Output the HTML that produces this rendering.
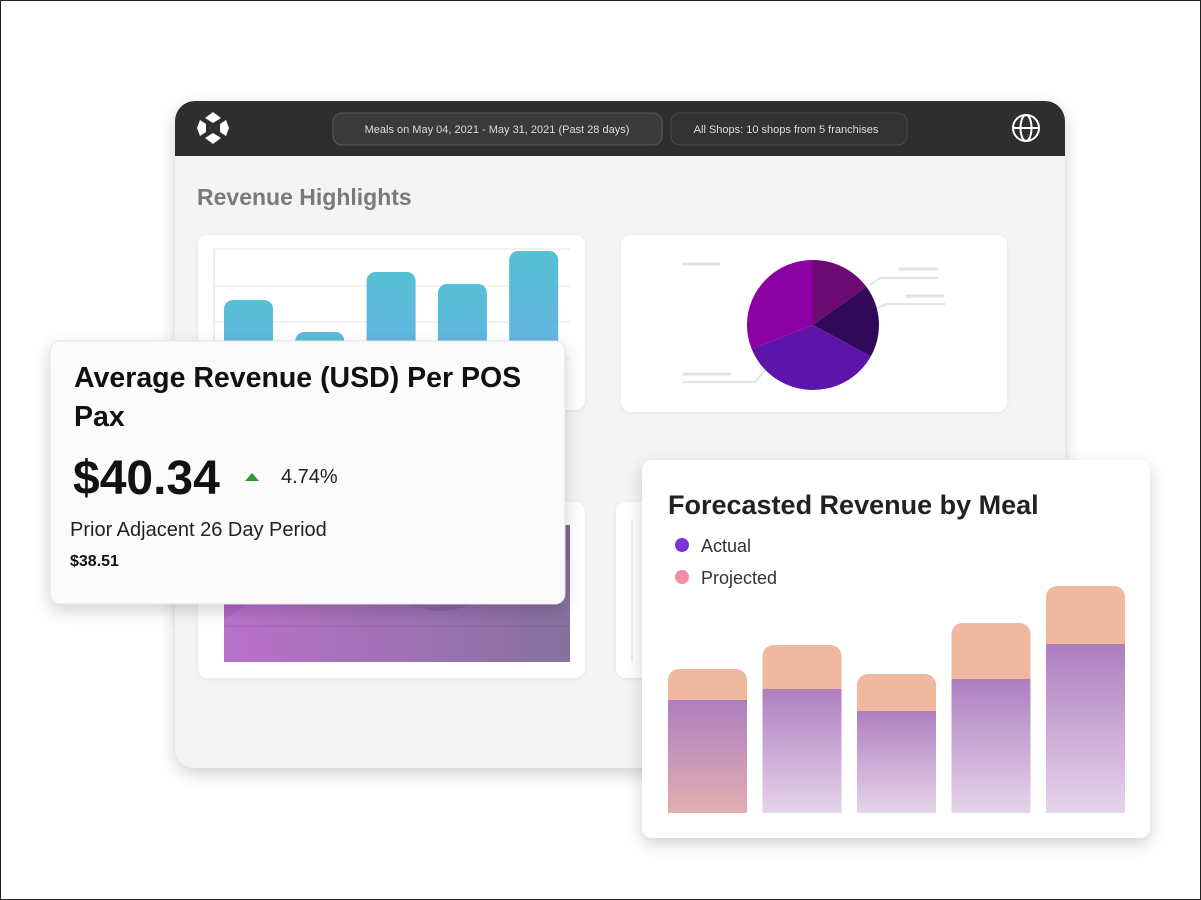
<!DOCTYPE html>
<html><head><meta charset="utf-8"><style>
html,body{margin:0;padding:0;background:#fff}
svg{display:block;font-family:"Liberation Sans",sans-serif}
</style></head><body>
<svg id="s" width="1201" height="900" viewBox="0 0 1201 900">
<defs>
<filter id="sh" x="-10%" y="-10%" width="120%" height="130%"><feDropShadow dx="0" dy="6" stdDeviation="8" flood-color="#000" flood-opacity="0.18"/></filter>
<filter id="sh2" x="-5%" y="-5%" width="110%" height="115%"><feDropShadow dx="0" dy="1" stdDeviation="1.5" flood-color="#000" flood-opacity="0.08"/></filter>
<linearGradient id="blue" x1="0" y1="0" x2="0" y2="1"><stop offset="0" stop-color="#56c0d4"/><stop offset="1" stop-color="#6aaee8"/></linearGradient>
<linearGradient id="act" x1="0" y1="0" x2="0" y2="1"><stop offset="0" stop-color="#ae7ec0"/><stop offset="1" stop-color="#e6d4ea"/></linearGradient>
<linearGradient id="act0" x1="0" y1="0" x2="0" y2="1"><stop offset="0" stop-color="#ae7ec0"/><stop offset="1" stop-color="#e2aeb0"/></linearGradient>
<linearGradient id="area" x1="0" y1="0" x2="1" y2="0"><stop offset="0" stop-color="#b565c6"/><stop offset="1" stop-color="#7c6598"/></linearGradient>
</defs>
<rect x="0.5" y="0.5" width="1200" height="899" fill="#fff" stroke="#222"/>

<g>
<rect x="175" y="101" width="890" height="667" rx="20" fill="#f4f4f4" filter="url(#sh)"/>
<path d="M175 156 V121 a20 20 0 0 1 20 -20 H1045 a20 20 0 0 1 20 20 V156 Z" fill="#2e2e2e"/>
<g fill="#fff">
<polygon points="213,112 221,118 213,123 205,118"/>
<polygon points="213,133 221,138 213,144 205,138"/>
<polygon points="200,120 206,124 206,132 200,136 197,128"/>
<polygon points="226,120 229,128 226,136 220,132 220,124"/>
</g>
<rect x="333" y="113" width="329" height="32" rx="9" fill="#3a3a3a" stroke="#5a5a5a"/>
<text x="497" y="133" font-size="11" fill="#ddd" text-anchor="middle">Meals on May 04, 2021 - May 31, 2021 (Past 28 days)</text>
<rect x="671" y="113" width="236" height="32" rx="9" fill="#333" stroke="#4a4a4a"/>
<text x="786" y="133" font-size="11" fill="#ddd" text-anchor="middle">All Shops: 10 shops from 5 franchises</text>
<g fill="none" stroke="#fff" stroke-width="2">
<circle cx="1026" cy="128" r="13"/><ellipse cx="1026" cy="128" rx="5.5" ry="13"/><line x1="1013" y1="128" x2="1039" y2="128"/>
</g>
<text x="197" y="205" font-size="23" font-weight="bold" fill="#7a7a7a">Revenue Highlights</text>

<rect x="198" y="235" width="387" height="175" rx="10" fill="#fff" filter="url(#sh2)"/>
<g id="gridA"></g>
<g id="barsA"></g>
<rect x="621" y="235" width="386" height="177" rx="10" fill="#fff" filter="url(#sh2)"/>
<g id="pie"></g>
<g fill="none" stroke="#e2e2e2" stroke-width="3">
<line x1="683" y1="264" x2="720" y2="264"/><line x1="899" y1="269" x2="937" y2="269"/><line x1="905" y1="296" x2="944" y2="296"/><line x1="683" y1="374" x2="731" y2="374"/>
<path d="M870 285 l10 -7 h58" stroke-width="2"/><path d="M877 308 l10 -4 h58" stroke-width="2"/><path d="M765 370 l-10 12 h-72" stroke-width="2"/>
</g>
<rect x="198" y="502" width="387" height="176" rx="10" fill="#fff" filter="url(#sh2)"/>
<rect x="224" y="525" width="346" height="137" fill="url(#area)"/>
<path d="M224 620 C300 560 380 600 430 610 C480 620 520 560 570 560 V662 H224Z" fill="#fff" opacity="0.08"/>
<line x1="224" y1="626" x2="570" y2="626" stroke="#7a4a8a" stroke-opacity="0.4"/>
<rect x="616" y="502" width="60" height="176" rx="10" fill="#fff" filter="url(#sh2)"/>
<line x1="632" y1="520" x2="632" y2="662" stroke="#ddd"/>
</g>

<g>
<rect x="50" y="341" width="515" height="263" rx="10" fill="#fbfbfb" filter="url(#sh)" stroke="#e6e6e6"/>
<text x="74" y="387" font-size="28.5" font-weight="bold" fill="#111">Average Revenue (USD) Per POS</text>
<text x="74" y="426" font-size="28.5" font-weight="bold" fill="#111">Pax</text>
<text x="73" y="494" font-size="48" font-weight="bold" fill="#111">$40.34</text>
<polygon points="245,481 252,473 259,481" fill="#2e9a3a"/>
<text x="281" y="483" font-size="20" fill="#222">4.74%</text>
<text x="70" y="536" font-size="20" fill="#222">Prior Adjacent 26 Day Period</text>
<text x="70" y="566" font-size="16" font-weight="bold" fill="#111">$38.51</text>
</g>

<g>
<rect x="642" y="460" width="508" height="378" rx="10" fill="#fff" filter="url(#sh)"/>
<text x="668" y="514" font-size="27" font-weight="bold" fill="#222">Forecasted Revenue by Meal</text>
<circle cx="682" cy="545" r="7" fill="#7b35d6"/>
<text x="701" y="552" font-size="18" fill="#333">Actual</text>
<circle cx="682" cy="577" r="7" fill="#ef8fa5"/>
<text x="701" y="584" font-size="18" fill="#333">Projected</text>
<g id="barsF"></g>
</g>
</svg>
<script>
const NS='http://www.w3.org/2000/svg';
// Forecast chart data
const meals=['Breakfast','Brunch','Lunch','Dinner','Late'];
const actual=[113,124,102,134,169];
const projectedTotal=[144,168,139,190,227];
// Highlight bar chart data
const highlightCats=['A','B','C','D','E'];
const highlightVals=[95,63,123,111,144];
// Pie data
const pieVals=[15,18,36,31];
const pieColors=['#6a0a72','#300a58','#5c14aa','#8a00a2'];

function el(t,a,p){const e=document.createElementNS(NS,t);for(const k in a)e.setAttribute(k,a[k]);p.appendChild(e);return e;}
function topRound(x,y,w,h,r){r=Math.min(r,h/2);return `M${x} ${y+h}V${y+r}a${r} ${r} 0 0 1 ${r} ${-r}H${x+w-r}a${r} ${r} 0 0 1 ${r} ${r}V${y+h}Z`;}

const fBase=813, fK=1, fX0=668, fStep=94.5, fW=79;
const fy=v=>fBase-v*fK, fx=i=>fX0+i*fStep;
const gF=document.getElementById('barsF');
meals.forEach((m,i)=>{
  const p=el('path',{d:topRound(fx(i),fy(projectedTotal[i]),fW,projectedTotal[i]*fK,11),fill:'#f0b89e'},gF);
  
  
  const a=el('rect',{x:fx(i),y:fy(actual[i]),width:fW,height:actual[i]*fK,fill:i===0?'url(#act0)':'url(#act)'},gF);
  
  
});

const hBase=395, hX0=224, hStep=71.3, hW=49;
const hy=v=>hBase-v, hx=i=>hX0+i*hStep;
const gG=document.getElementById('gridA');
[249,286,322,358].forEach(y=>{const l=el('line',{x1:214,y1:y,x2:570,y2:y,stroke:'#e6e6e6'},gG);

});
const ax=el('line',{x1:214,y1:249,x2:214,y2:400,stroke:'#ddd'},gG);


const gA=document.getElementById('barsA');
highlightCats.forEach((c,i)=>{
  const b=el('path',{d:topRound(hx(i),hy(highlightVals[i]),hW,highlightVals[i],9),fill:'url(#blue)'},gA);
  
  
});

const cx=813, cy=325, rx=66, ry=65;
const gP=document.getElementById('pie');
const tot=pieVals.reduce((a,b)=>a+b,0);
let ang=-Math.PI/2;
pieVals.forEach((v,i)=>{
  const a2=ang+v/tot*2*Math.PI;
  const x1=cx+rx*Math.cos(ang),y1=cy+ry*Math.sin(ang),x2=cx+rx*Math.cos(a2),y2=cy+ry*Math.sin(a2);
  const large=(a2-ang)>Math.PI?1:0;
  const s=el('path',{d:`M${cx} ${cy}L${x1} ${y1}A${rx} ${ry} 0 ${large} 1 ${x2} ${y2}Z`,fill:pieColors[i]},gP);
  
  
  ang=a2;
});
</script>
</body></html>
